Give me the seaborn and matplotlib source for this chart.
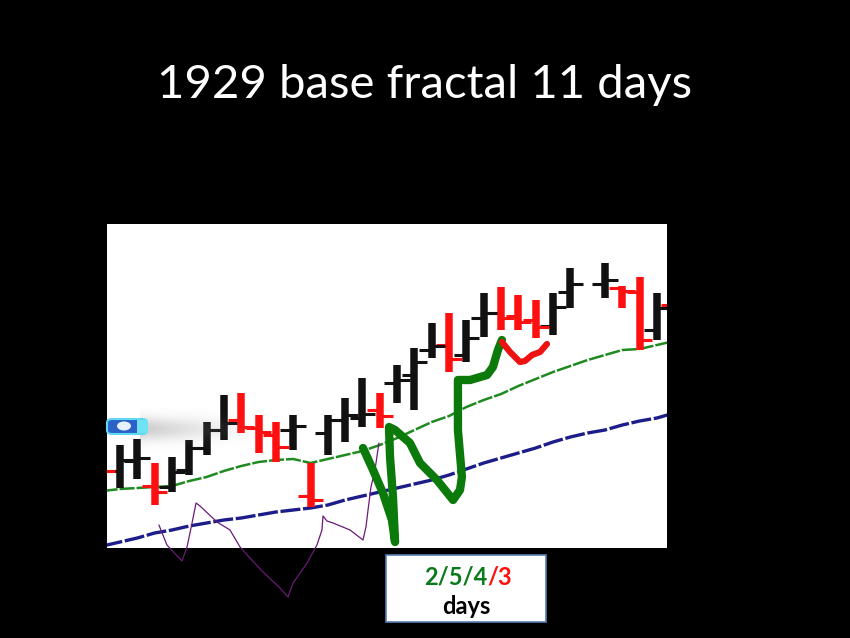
import matplotlib
matplotlib.use("Agg")
import matplotlib.pyplot as plt
import seaborn as sns
import pandas as pd
import numpy as np
from matplotlib.patches import FancyBboxPatch, Rectangle, Ellipse

# bar index (trading days); day 28 is a market holiday
days = list(range(34))
opens = [100, 77, 87, 62, 61, 78, 100, 118, 128, 120, 113, 118, 52, 115, 128, 130, 138,
         165, 173, 198, 203, 193, 230, 235, 232, 228, 222, 256, np.nan, 264, 260, 256, 218, 243]
highs = [108, 103, 109, 85, 91, 108, 126, 153, 155, 133, 126, 133, 85, 133, 150, 170, 155,
         183, 200, 225, 235, 228, 255, 261, 253, 248, 255, 280, np.nan, 285, 262, 271, 255, 253]
lows = [70, 60, 69, 43, 56, 73, 93, 108, 115, 95, 86, 98, 41, 93, 106, 121, 120,
        145, 138, 190, 176, 186, 211, 218, 218, 210, 213, 240, np.nan, 250, 240, 198, 208, 218]
closes = [77, 88, 90, 56, 76, 100, 118, 125, 121, 116, 101, 122, 48, 128, 133, 134, 132,
          168, 186, 202, 189, 210, 235, 230, 226, 221, 241, 264, np.nan, 268, 257, 208, 240, 235]

# moving averages
ma_fast = [57, 59, 60, 61, 62, 67, 71, 77, 82, 86, 88, 89, 85, 89, 93, 97, 103,
           110, 118, 126, 132, 141, 148, 154, 162, 169, 176, 182, 188, 193, 198, 199, 203, 207]
ma_slow = [2, 6, 10, 15, 18, 22, 25, 28, 30, 33, 36, 38, 40, 43, 48, 52, 56,
           60, 64, 68, 73, 79, 85, 90, 95, 100, 106, 111, 115, 118, 123, 127, 130, 135]

# hand-drawn annotations (bar index, price)
purple_x = [3.25, 3.71, 4.58, 4.87, 5.16, 5.39, 5.62, 6.60, 7.35, 7.93, 8.50, 9.26, 10.24,
            10.70, 10.99, 11.80, 12.37, 12.66, 12.72, 12.95, 13.30, 14.28, 15.03, 15.20,
            15.32, 15.49, 15.72, 15.95]
purple_y = [23, 3, -13, 1, 25, 45, 42, 26, 18, 1, -10, -24, -40, -49, -35, -15, 3, 18, 32,
            27, 25, 18, 8, 21, 38, 61, 78, 105]
green_x = [15.03, 15.61, 16.18, 16.70, 16.88, 16.76, 16.59, 16.53, 16.88, 17.74, 18.32,
           19.30, 20.23, 20.63, 20.74, 20.51, 20.51, 21.21, 22.19, 22.53, 22.82, 23.05]
green_y = [100, 78, 55, 28, 6, 51, 91, 121, 118, 105, 85, 68, 48, 58, 71, 118, 168, 168,
           173, 181, 198, 208]
red_x = [23.05, 23.52, 24.09, 24.38, 24.79, 25.25, 25.65]
red_y = [206, 196, 186, 187, 193, 196, 204]

title = "1929 base fractal 11 days"
count_parts = ["2/5/4", "/3"]

sns.set_style("white")
plt.rcParams["font.family"] = ["Lato", "DejaVu Sans"]

fig = plt.figure(figsize=(8.5, 6.38), dpi=100, facecolor="black")
ax = fig.add_axes([107 / 850, 90 / 638, 560 / 850, 324 / 638])
ax.set_facecolor("white")

df = pd.DataFrame({"day": days, "open": opens, "high": highs, "low": lows, "close": closes,
                   "fast": ma_fast, "slow": ma_slow})
bars = df.dropna()
col = np.where(bars["close"] < bars["open"], "#ff1010", "#111111")
ax.vlines(bars["day"], bars["low"], bars["high"], colors=col, linewidth=5.4, zorder=3)
ax.hlines(bars["open"], bars["day"] - 0.74, bars["day"], colors=col, linewidth=2.2, zorder=3)
ax.hlines(bars["close"], bars["day"], bars["day"] + 0.74, colors=col, linewidth=2.2, zorder=3)

sns.lineplot(data=df, x="day", y="fast", ax=ax, color="#1f8a1f", linewidth=1.8, zorder=2)
ax.lines[-1].set_dashes((6, 0.8))
sns.lineplot(data=df, x="day", y="slow", ax=ax, color="#1c1c8a", linewidth=2.4, zorder=2)
ax.lines[-1].set_dashes((6, 0.8))

ax.plot(purple_x, purple_y, color="#6b1a78", linewidth=0.9, clip_on=False, zorder=4)
ax.plot(green_x, green_y, color="#0b7a0b", linewidth=6, solid_capstyle="round",
        solid_joinstyle="round", zorder=5)
ax.plot(red_x, red_y, color="#ee1111", linewidth=4.5, solid_capstyle="round",
        solid_joinstyle="round", zorder=5)

ax.set_xlim(0.25, 32.58)
ax.set_ylim(0, 324)
ax.set_xticks([])
ax.set_yticks([])
ax.set_xlabel("")
ax.set_ylabel("")
for s in ax.spines.values():
    s.set_visible(False)

W, H = 850, 638

# soft grey smear behind the little glossy marker in the screenshot
sh = fig.add_axes([140 / W, 1 - 452 / H, 130 / W, 46 / H], zorder=1)
gx = np.linspace(1, 0, 130) ** 1.3
gy = np.exp(-((np.linspace(-1, 1, 46)) ** 2) / 0.25)
rgba = np.zeros((46, 130, 4))
rgba[..., :3] = 0.55
rgba[..., 3] = 0.45 * gy[:, None] * gx[None, :]
sh.imshow(rgba, aspect="auto")
sh.axis("off")

fig.patches.append(FancyBboxPatch((107 / W, 1 - 434 / H), 40 / W, 15 / H,
                                  boxstyle="round,pad=0,rounding_size=0.006",
                                  transform=fig.transFigure, facecolor="#2a62c8",
                                  edgecolor="#5fd8f0", linewidth=1.5, zorder=6))
fig.patches.append(Rectangle((137 / W, 1 - 433 / H), 11 / W, 13 / H, transform=fig.transFigure,
                             facecolor="#6fe3f5", edgecolor="none", zorder=6))
fig.patches.append(Ellipse((124 / W, 1 - 426 / H), 14 / W, 9 / H, transform=fig.transFigure,
                           facecolor="#e8f2ff", edgecolor="none", zorder=7))

fig.text(0.5, 1 - 85 / H, title, ha="center", va="center", color="white", fontsize=34)

# count box
fig.patches.append(Rectangle((386 / W, 1 - 622 / H), 160 / W, 67 / H, transform=fig.transFigure,
                             facecolor="white", edgecolor="#5a7fb0", linewidth=1.2, zorder=6))
fig.text(487 / W, 1 - 577 / H, count_parts[0], ha="right", va="center", color="#0b7a1a",
         fontsize=17, fontweight="bold", zorder=7)
fig.text(487 / W, 1 - 577 / H, count_parts[1], ha="left", va="center", color="#ff1010",
         fontsize=17, fontweight="bold", zorder=7)
fig.text(466 / W, 1 - 606 / H, "days", ha="center", va="center", color="black",
         fontsize=17, fontweight="bold", zorder=7)

fig.savefig("out.png", dpi=100, facecolor="black")
